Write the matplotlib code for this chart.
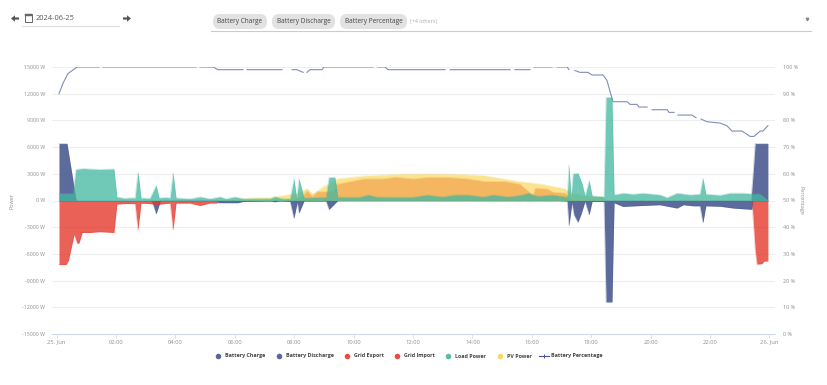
import numpy as np
import matplotlib
matplotlib.use("Agg")
import matplotlib.pyplot as plt
from matplotlib.patches import FancyArrow, FancyBboxPatch, Rectangle

plt.rcParams['font.family'] = ['Open Sans', 'DejaVu Sans']

# hours since midnight, watts
discharge_x = [0.08, 0.35, 0.62, 0.66, 23.38, 23.45, 23.52, 23.95]
discharge_y = [6400, 6400, 800, 0, 0, 3000, 6400, 6400]

charge_x = [3.2, 3.35, 3.5, 5.40, 5.43, 6.1, 6.3, 7.2, 7.35, 7.5, 7.86, 7.99, 8.10, 8.16, 8.33, 9.07, 9.17, 9.47, 16.9, 17.19, 17.25, 17.35, 17.42, 17.55, 17.65, 17.79, 17.93, 18.03, 18.36, 18.43, 18.50, 18.70, 18.77, 19.07, 19.74, 20.31, 20.89, 21.1, 21.44, 21.66, 21.76, 21.86, 22.34, 22.78, 23.41, 23.45]
charge_y = [0, -1500, 0, 0, -250, -250, -100, -50, -150, -50, -100, -2000, -200, -1400, -50, -50, -1000, 0, 0, -50, -2840, -260, -1600, -2430, -1600, -100, -1600, -100, -100, -150, -11400, -11400, -260, -670, -560, -480, -850, -480, -600, -600, -2500, -600, -650, -850, -1000, 0]

import_x = [0.08, 0.32, 0.4, 0.59, 0.69, 0.75, 0.86, 1.12, 1.46, 1.93, 2.03, 2.3, 2.64, 2.74, 2.84, 3.14, 3.35, 3.65, 3.82, 3.92, 4.02, 4.49, 4.83, 5.16, 5.40, 5.43, 23.41, 23.52, 23.58, 23.75, 23.82, 23.95]
import_y = [-7200, -7200, -6700, -3800, -4800, -4800, -3600, -3600, -3500, -3600, -400, -350, -350, -3300, -300, -350, -450, -350, -300, -3300, -300, -290, -560, -290, -290, 0, 0, -5500, -7150, -7100, -6800, -6800]

export_x = [7.86, 8.2, 8.30, 8.43, 8.60, 8.77, 9.10, 9.34, 9.37, 9.44, 9.98, 10.32, 10.99, 11.39, 12.0, 12.47, 13.18, 13.85, 14.42, 15.10, 15.60, 15.77, 16.04, 16.11, 16.51, 16.71, 17.12, 17.29, 17.45]
export_y = [0, 300, 600, 1100, 450, 1000, 1000, 1100, 1840, 1840, 2200, 2440, 2440, 2630, 2440, 2600, 2600, 2440, 2140, 2140, 1840, 1310, 640, 1390, 1310, 940, 830, 100, 0]

load_x = [0.08, 0.55, 0.65, 0.9, 1.12, 1.46, 1.93, 2.03, 2.3, 2.47, 2.64, 2.74, 2.84, 3.14, 3.35, 3.45, 3.65, 3.82, 3.92, 4.02, 4.49, 4.83, 5.16, 5.50, 5.7, 6.0, 6.3, 7.19, 7.35, 7.6, 7.86, 7.99, 8.08, 8.16, 8.33, 9.07, 9.17, 9.37, 9.47, 9.71, 10.2, 10.48, 10.79, 11.33, 12.0, 12.47, 12.98, 13.41, 13.85, 14.36, 14.69, 15.2, 15.67, 15.87, 16.2, 16.68, 17.12, 17.19, 17.25, 17.32, 17.39, 17.55, 17.69, 17.79, 17.93, 18.03, 18.36, 18.43, 18.50, 18.70, 18.77, 19.07, 19.41, 19.74, 20.31, 20.55, 20.89, 21.33, 21.66, 21.76, 21.86, 22.34, 22.67, 23.11, 23.41, 23.68, 23.92, 23.95]
load_y = [800, 800, 3500, 3600, 3550, 3500, 3550, 400, 250, 300, 300, 3200, 300, 250, 1700, 300, 350, 300, 3100, 300, 200, 415, 200, 415, 200, 415, 200, 200, 430, 200, 200, 2440, 250, 2440, 300, 380, 2600, 2600, 400, 380, 380, 640, 400, 380, 380, 640, 420, 640, 640, 420, 640, 420, 640, 830, 500, 640, 420, 400, 4000, 400, 3000, 3080, 1950, 530, 2250, 530, 450, 450, 11600, 11600, 650, 830, 720, 830, 640, 340, 830, 640, 730, 2520, 730, 600, 830, 830, 760, 760, 100, 100]

pv_x = [5.9, 6.51, 7.19, 7.86, 8.09, 8.43, 8.63, 8.97, 9.21, 9.44, 10.32, 11.46, 12.57, 13.52, 14.42, 15.54, 16.34, 17.12, 17.29, 17.89, 18.36, 18.5]
pv_y = [0, 300, 350, 700, 800, 1350, 700, 1570, 1900, 2440, 2770, 2960, 3000, 2960, 2800, 2140, 1840, 1310, 830, 500, 400, 0]

pct_x = [0.08, 0.22, 0.38, 0.69, 1.43, np.nan, 1.56, 4.69, np.nan, 4.83, 5.27, 5.43, 5.57, 6.28, np.nan, 6.41, 7.59, np.nan, 7.93, 8.09, 8.30, np.nan, 8.43, 8.53, 8.94, 9.0, 10.65, np.nan, 10.82, 11.06, 11.16, 13.08, np.nan, 13.25, 15.27, np.nan, 15.43, 15.94, np.nan, 16.07, 16.68, np.nan, 16.85, 17.19, 17.25, np.nan, 17.45, 17.62, 17.89, 18.03, 18.40, 18.53, 18.63, 18.73, 19.21, 19.31, 19.54, 19.61, 19.88, np.nan, 20.05, 20.56, 20.62, 20.79, np.nan, 20.92, 21.39, 21.53, np.nan, 21.70, 21.90, 22.34, 22.57, 22.74, 23.08, 23.35, 23.48, 23.69, 23.78, 23.95]
pct_y = [90, 94, 97.5, 100, 100, np.nan, 100, 100, np.nan, 100, 100, 99, 99, 99, np.nan, 99, 99, np.nan, 99, 99, 98, np.nan, 98, 99, 99, 100, 100, np.nan, 100, 100, 99, 99, np.nan, 99, 99, np.nan, 99, 99, np.nan, 100, 100, np.nan, 100, 100, 99, np.nan, 98.7, 98, 98, 97, 97, 95, 91, 87, 87, 86, 86, 85, 85, np.nan, 84, 84, 83, 83, np.nan, 82, 82, 81, np.nan, 80.5, 79.5, 79, 78, 76, 76, 74, 74, 76, 76, 78]

power_ticks = np.arange(-15000, 15001, 3000)
pct_ticks = np.arange(0, 101, 10)
hour_ticks = np.arange(0, 25, 2)
hour_labels = ['25. Jun', '02:00', '04:00', '06:00', '08:00', '10:00', '12:00', '14:00', '16:00', '18:00', '20:00', '22:00', '26. Jun']

BLUE = '#45568f'
RED = '#e5392d'
TEAL = '#43b79f'
YELLOW = '#f8d44c'
GREY = '#8f8f8f'

W, H = 827, 385
fig = plt.figure(figsize=(W / 100, H / 100), dpi=100)
ax = fig.add_axes([52 / W, 1 - 334 / H, (775 - 52) / W, (334 - 67) / H])
ax.set_xlim((52 - 56.6) / 29.7, (775 - 56.6) / 29.7)
ax.set_ylim(-15000, 15000)

def area(x, y, color, alpha, z):
    ax.fill_between(x, y, 0, color=color, alpha=alpha, lw=0, zorder=z)
    ax.plot(x, y, color=color, alpha=0.3, lw=0.5, zorder=z)

area(discharge_x, discharge_y, BLUE, 0.88, 2)
area(charge_x, charge_y, BLUE, 0.88, 2)
area(import_x, import_y, RED, 0.8, 3)
area(export_x, export_y, RED, 0.6, 3)
area(pv_x, pv_y, YELLOW, 0.62, 4)
area(load_x, load_y, TEAL, 0.76, 5)
ax.plot([0.08, 23.95], [0, 0], color=RED, lw=0.5, alpha=0.5, zorder=6)

ax.set_yticks(power_ticks)
ax.set_yticklabels(['%d W' % v for v in power_ticks])
ax.set_xticks(hour_ticks)
ax.set_xticklabels(hour_labels)
ax.grid(axis='y', color='#eeeeee', lw=0.8)
ax.set_axisbelow(True)
ax.tick_params(axis='y', length=0, labelsize=3.8, labelcolor=GREY, pad=5)
ax.tick_params(axis='x', length=3, width=0.5, color='#ccd6eb', labelsize=4.2, labelcolor=GREY, pad=1)
for s in ['top', 'left', 'right']:
    ax.spines[s].set_visible(False)
ax.spines['bottom'].set_color('#ccd6eb')
ax.spines['bottom'].set_linewidth(0.7)
ax.set_ylabel('Power', fontsize=4, color=GREY)
ax.yaxis.set_label_coords((15 - 52) / (775 - 52), 0.5)

ax2 = ax.twinx()
ax2.set_ylim(0, 100)
ax2.set_yticks(pct_ticks)
ax2.set_yticklabels(['%d %%' % v for v in pct_ticks])
ax2.tick_params(axis='y', length=0, labelsize=4, labelcolor=GREY, pad=6)
for s in ax2.spines.values():
    s.set_visible(False)
ax2.plot(pct_x, pct_y, color='#7f8dbd', lw=0.8, zorder=7)
ax2.set_ylabel('Percentage', fontsize=4, color=GREY, rotation=270)
ax2.yaxis.set_label_coords((803 - 52) / (775 - 52), 0.5)

# page controls above the chart, drawn in pixel coords
ui = fig.add_axes([0, 0, 1, 1], zorder=-1)
ui.set_xlim(0, W)
ui.set_ylim(H, 0)
ui.axis('off')
for x0, dx in [(19, -8), (123, 8)]:
    ui.add_patch(FancyArrow(x0, 18.5, dx, 0, width=2.2, head_width=6.5, head_length=4, length_includes_head=True, fc='#555555', ec='none'))
ui.add_patch(Rectangle((25, 14), 6.5, 8, fc='white', ec='#666666', lw=0.7))
ui.add_patch(Rectangle((25, 14), 6.5, 2, fc='#666666', ec='#666666', lw=0.3))
ui.text(36, 18, '2024-06-25', fontsize=5.4, color='#555555', va='center')
ui.plot([22, 119], [25.5, 25.5], color='#dddddd', lw=0.8)
ui.plot([211, 811], [30.5, 30.5], color='#cccccc', lw=0.8)
chip_names = ['Battery Charge', 'Battery Discharge', 'Battery Percentage']
chip_left = [213, 272, 340]
chip_right = [267, 335, 407]
for name, l, r in zip(chip_names, chip_left, chip_right):
    ui.add_patch(FancyBboxPatch((l, 14), r - l, 15, boxstyle='round,pad=0,rounding_size=7', fc='#e2e2e2', ec='none'))
    ui.text((l + r) / 2, 21.5, name, fontsize=4.7, color='#444444', ha='center', va='center')
ui.text(410, 21, '(+4 others)', fontsize=3.9, color='#aaaaaa', va='center')
ui.plot([807], [19], marker='v', ms=1.8, color='#888888')

# legend
legend_names = ['Battery Charge', 'Battery Discharge', 'Grid Export', 'Grid Import', 'Load Power', 'PV Power']
legend_colors = [BLUE, BLUE, RED, RED, TEAL, YELLOW]
legend_marks = [218, 279, 347, 397, 448, 500]
for name, c, x in zip(legend_names, legend_colors, legend_marks):
    ui.plot([x], [356], 'o', ms=4, color=c, alpha=0.9, mew=0)
    ui.text(x + 7, 356, name, fontsize=3.9, fontweight='bold', color='#444444', va='center')
ui.plot([539, 549], [356, 356], color=BLUE, lw=0.8)
ui.plot([544], [356], marker='+', ms=3, mew=0.7, color=BLUE)
ui.text(551, 356, 'Battery Percentage', fontsize=3.9, fontweight='bold', color='#444444', va='center')

fig.savefig('out.png', dpi=100)
